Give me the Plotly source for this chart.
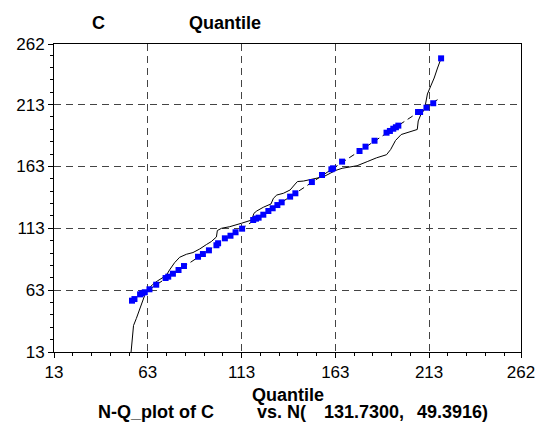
import plotly.graph_objects as go

# Normal reference distribution of C
mu = 131.7300
sigma = 49.3916

# Blue quantile points
qx = [54.6, 55.9, 58.9, 60.0, 61.4, 63.9, 67.5, 72.5, 73.9, 76.4, 79.4, 82.3,
      89.8, 92.4, 95.6, 99.6, 100.5, 104.1, 107.1, 109.8, 113.3, 119.2, 120.7,
      122.1, 124.6, 127.3, 129.6, 132.1, 134.4, 138.9, 141.7, 150.5, 155.9,
      160.9, 161.8, 166.6, 175.9, 179.1, 183.9, 190.3, 192.1, 193.9, 195.3,
      196.6, 207.1, 208.2, 211.6, 215.2, 219.4]
qy = [54.5, 55.8, 59.6, 60.5, 61.3, 63.7, 67.4, 72.8, 73.9, 76.3, 79.3, 82.5,
      90.0, 92.2, 95.2, 99.3, 100.9, 104.9, 107.0, 109.8, 112.7, 119.7, 120.8,
      121.6, 124.0, 127.0, 129.2, 131.8, 134.0, 138.6, 141.3, 150.4, 156.1,
      160.7, 161.5, 166.9, 175.5, 179.0, 183.8, 190.3, 191.7, 193.5, 194.7,
      196.0, 207.0, 207.0, 210.5, 214.1, 250.4]

# Reference line through the quantile points
ref_x = [54.6, 217.5]
ref_y = [54.4, 217.0]

# Black empirical curve
curve_x = [54.1, 55.4, 56.9, 59.2, 60.4, 62.1, 63.5, 65.7, 68.3, 71.0, 72.8,
           74.6, 77.3, 80.0, 83.6, 87.1, 90.7, 94.3, 96.9, 99.6, 100.1, 102.3,
           106.7, 113.0, 118.4, 119.6, 121.1, 124.6, 128.7, 130.0, 131.8,
           135.3, 138.9, 141.6, 142.8, 146.0, 149.6, 156.7, 160.3, 163.0,
           166.6, 174.6, 180.0, 185.0, 190.3, 192.5, 195.1, 198.1, 206.7,
           207.2, 208.5, 210.3, 211.2, 212.1, 213.9, 215.7, 217.5, 219.4]
curve_y = [13.0, 34.4, 40.1, 49.4, 54.2, 61.9, 64.3, 67.7, 70.6, 73.2, 74.8,
           79.3, 85.2, 89.6, 92.0, 93.4, 96.3, 99.9, 102.3, 106.0, 111.2,
           113.0, 114.3, 117.1, 119.7, 125.1, 127.0, 130.0, 132.7, 137.3,
           139.9, 141.3, 144.0, 148.8, 150.8, 151.2, 152.5, 154.7, 157.5,
           159.7, 161.5, 163.6, 166.9, 170.0, 172.5, 176.7, 184.0, 188.8,
           192.9, 199.8, 204.6, 208.7, 214.3, 221.6, 228.1, 234.5, 242.6,
           250.4]

tick_vals = [13, 63, 113, 163, 213, 262]
axis_range = [13, 262]

FONT = "Liberation Sans, Arial, sans-serif"

fig = go.Figure()
fig.add_trace(go.Scatter(x=curve_x, y=curve_y, mode="lines",
                         line=dict(color="black", width=1)))
fig.add_trace(go.Scatter(x=ref_x, y=ref_y, mode="lines",
                         line=dict(color="black", width=1, dash="6px,4px")))
fig.add_trace(go.Scatter(x=qx, y=qy, mode="markers",
                         marker=dict(symbol="square", size=6, color="#0000FF",
                                     line=dict(width=0))))

axis_common = dict(
    range=axis_range,
    tickmode="array",
    tickvals=tick_vals,
    ticktext=[str(v) for v in tick_vals],
    ticks="outside",
    ticklen=5,
    tickwidth=1,
    tickcolor="black",
    showline=True,
    linecolor="black",
    linewidth=1,
    mirror=True,
    showgrid=True,
    gridcolor="#444444",
    gridwidth=1,
    griddash="7px,5px",
    zeroline=False,
    automargin=False,
    tickfont=dict(family=FONT, size=17, color="black"),
    minor=dict(tick0=13, dtick=10, ticks="outside", ticklen=3,
               tickcolor="black", showgrid=False),
)

fig.update_xaxes(**axis_common)
fig.update_yaxes(**axis_common)

title_font = dict(family=FONT, size=18, color="black")


def note(text, x, y, xanchor, yshift):
    fig.add_annotation(text=text, xref="paper", yref="paper", x=x, y=y,
                       xanchor=xanchor, yanchor="middle", yshift=yshift,
                       showarrow=False, font=title_font)


note("<b>C</b>", 0.0952, 1, "center", 21)
note("<b>Quantile</b>", 0.3668, 1, "center", 21)
note("<b>Quantile</b>", 0.5, 0, "center", -43)
note("<b>N-Q_plot of C</b>", 0.3465, 0, "right", -60)
note("<b>vs. N(</b>", 0.4310, 0, "left", -60)
note(f"<b>{mu:.4f},</b>", 0.5737, 0, "left", -60)
note(f"<b>{sigma:.4f})</b>", 0.7732, 0, "left", -60)

fig.update_layout(
    width=538,
    height=423,
    margin=dict(l=54, r=17, t=44, b=71),
    paper_bgcolor="white",
    plot_bgcolor="white",
    showlegend=False,
)

fig.write_html("out.html")
